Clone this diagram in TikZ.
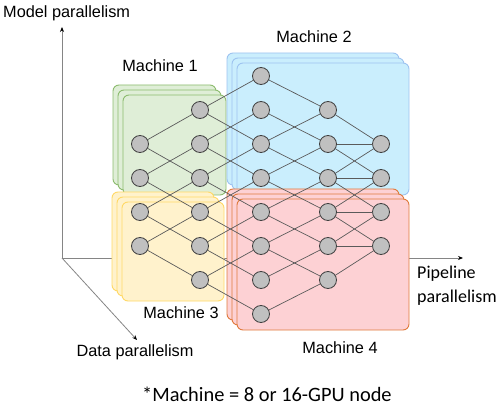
\documentclass[tikz,border=0pt]{standalone}
\usepackage{fontspec}
\setmainfont{Liberation Sans}
\newfontfamily\calibri{Carlito}
\usepackage{tikz}
\usetikzlibrary{arrows.meta}
\usepackage{tkz-graph}

\definecolor{greenfill}{HTML}{DFEED7}
\definecolor{greenline}{HTML}{8CBB6E}
\definecolor{bluefill}{HTML}{CAEEFD}
\definecolor{blueline}{HTML}{9DC3F0}
\definecolor{yellowfill}{HTML}{FFF2CC}
\definecolor{yellowline}{HTML}{FFD966}
\definecolor{redfill}{HTML}{FDD1D4}
\definecolor{redline}{HTML}{E07A3C}
\definecolor{nodefill}{HTML}{C0C0C0}
\definecolor{nodeline}{HTML}{404040}
\definecolor{edgegray}{HTML}{5A5A5A}
\definecolor{axisgray}{HTML}{858585}

\tikzset{
  machine/.style={rounded corners=6pt, line width=0.9pt},
  axis/.style={draw=axisgray, line width=0.8pt, -{Stealth[black,length=5pt,width=4pt]}},
  lbl/.style={inner sep=0pt, anchor=base, font=\fontsize{16.3}{19}\selectfont},
  cal/.style={inner sep=0pt, anchor=base west, font=\calibri\fontsize{18}{22}\selectfont},
}

\begin{document}
\begin{tikzpicture}[x=1pt, y=-1pt]
        \useasboundingbox (0,0) rectangle (501,409);
        \GraphInit[vstyle=Normal]
        \tikzset{VertexStyle/.style={shape=circle, draw=nodeline, fill=nodefill,
            line width=0.8pt, minimum size=17pt, inner sep=0pt},
          EdgeStyle/.style={draw=edgegray, line width=0.7pt}}

        % axes
        \coordinate (o) at (62,258);
        \coordinate (mp) at (62,27);
        \coordinate (pp) at (463,258);
        \coordinate (dp) at (137,340);
        \draw[axis] (o) -- (mp);
        \draw[axis] (o) -- (pp);
        \draw[axis] (o) -- (dp);

        % machines
        \draw[machine, draw=greenline, fill=greenfill] (113,85) rectangle +(103,100);
        \draw[machine, draw=greenline, fill=greenfill] (118,90) rectangle +(103,100);
        \draw[machine, draw=greenline, fill=greenfill] (123,95) rectangle +(103,100);
        \draw[machine, draw=blueline, fill=bluefill] (227,53) rectangle +(172,132);
        \draw[machine, draw=blueline, fill=bluefill] (232,58) rectangle +(172,132);
        \draw[machine, draw=blueline, fill=bluefill] (237,63) rectangle +(172,132);
        \draw[machine, draw=yellowline, fill=yellowfill] (112,192) rectangle +(102,99);
        \draw[machine, draw=yellowline, fill=yellowfill] (117,197) rectangle +(102,99);
        \draw[machine, draw=yellowline, fill=yellowfill] (122,202) rectangle +(102,99);
        \draw[machine, draw=redline, fill=redfill] (227,189) rectangle +(172,131);
        \draw[machine, draw=redline, fill=redfill] (232,194) rectangle +(172,131);
        \draw[machine, draw=redline, fill=redfill] (237,199) rectangle +(172,131);

        \Vertex[x=140, y=144, NoLabel]{a2}
        \Vertex[x=140, y=178, NoLabel]{a3}
        \Vertex[x=140, y=212, NoLabel]{a4}
        \Vertex[x=140, y=246, NoLabel]{a5}
        \Vertex[x=200, y=110, NoLabel]{b1}
        \Vertex[x=200, y=144, NoLabel]{b2}
        \Vertex[x=200, y=178, NoLabel]{b3}
        \Vertex[x=200, y=212, NoLabel]{b4}
        \Vertex[x=200, y=246, NoLabel]{b5}
        \Vertex[x=200, y=280, NoLabel]{b6}
        \Vertex[x=261, y=76, NoLabel]{c0}
        \Vertex[x=261, y=110, NoLabel]{c1}
        \Vertex[x=261, y=144, NoLabel]{c2}
        \Vertex[x=261, y=178, NoLabel]{c3}
        \Vertex[x=261, y=212, NoLabel]{c4}
        \Vertex[x=261, y=246, NoLabel]{c5}
        \Vertex[x=261, y=280, NoLabel]{c6}
        \Vertex[x=261, y=314, NoLabel]{c7}
        \Vertex[x=328, y=110, NoLabel]{d1}
        \Vertex[x=328, y=144, NoLabel]{d2}
        \Vertex[x=328, y=178, NoLabel]{d3}
        \Vertex[x=328, y=212, NoLabel]{d4}
        \Vertex[x=328, y=246, NoLabel]{d5}
        \Vertex[x=328, y=280, NoLabel]{d6}
        \Vertex[x=381, y=144, NoLabel]{e2}
        \Vertex[x=381, y=178, NoLabel]{e3}
        \Vertex[x=381, y=212, NoLabel]{e4}
        \Vertex[x=381, y=246, NoLabel]{e5}

        \Edge(a2)(b1)
        \Edge(a2)(b3)
        \Edge(a3)(b2)
        \Edge(a3)(b4)
        \Edge(a4)(b3)
        \Edge(a4)(b5)
        \Edge(a5)(b4)
        \Edge(a5)(b6)
        \Edge(b1)(c0)
        \Edge(b1)(c2)
        \Edge(b2)(c1)
        \Edge(b2)(c3)
        \Edge(b3)(c2)
        \Edge(b3)(c4)
        \Edge(b4)(c3)
        \Edge(b4)(c5)
        \Edge(b5)(c4)
        \Edge(b5)(c6)
        \Edge(b6)(c5)
        \Edge(b6)(c7)
        \Edge(c0)(d1)
        \Edge(c1)(d2)
        \Edge(c2)(d1)
        \Edge(c2)(d3)
        \Edge(c3)(d2)
        \Edge(c3)(d4)
        \Edge(c4)(d3)
        \Edge(c4)(d5)
        \Edge(c5)(d4)
        \Edge(c5)(d6)
        \Edge(c6)(d5)
        \Edge(c7)(d6)
        \Edge(d1)(e2)
        \Edge(d2)(e2)
        \Edge(d2)(e3)
        \Edge(d3)(e2)
        \Edge(d3)(e3)
        \Edge(d3)(e4)
        \Edge(d4)(e3)
        \Edge(d4)(e4)
        \Edge(d4)(e5)
        \Edge(d5)(e4)
        \Edge(d5)(e5)
        \Edge(d6)(e5)

        % labels
        \node[lbl, anchor=base west] (mpl) at (3,17.5) {Model parallelism};
        \node[lbl] (m1) at (160,72) {Machine 1};
        \node[lbl] (m2) at (314,43) {Machine 2};
        \node[lbl] (m3) at (181,318) {Machine 3};
        \node[lbl] (m4) at (340,353) {Machine 4};
        \node[lbl] (dpl) at (135,356) {Data parallelism};
        \node[cal] (ppl1) at (417,278) {Pipeline};
        \node[cal] (ppl2) at (417,302) {parallelism};
        \node[cal, font=\calibri\fontsize{20.4}{24}\selectfont] (note) at (142,401) {*Machine = 8 or 16-GPU node};

    \end{tikzpicture}
\end{document}
